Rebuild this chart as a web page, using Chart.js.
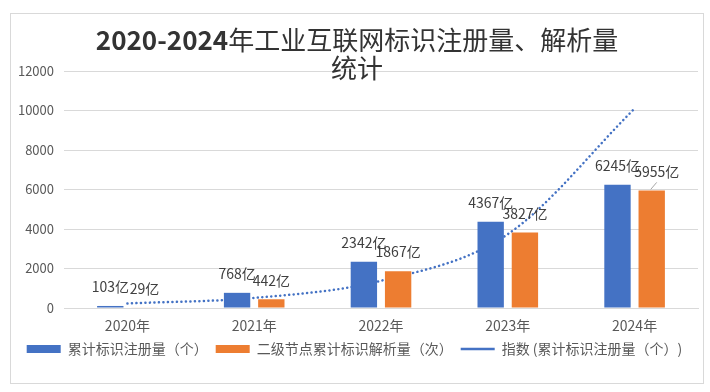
<!DOCTYPE html>
<html>
<head>
<meta charset="utf-8">
<script src="https://cdn.jsdelivr.net/npm/chart.js@4.4.1/dist/chart.umd.min.js"></script>
<style>
  html, body { margin: 0; padding: 0; background: #fff; }
  #box { position: absolute; left: 10px; top: 13px; width: 692px; height: 369px; border: 1px solid #d9d9d9; }
</style>
</head>
<body>
<div id="box"><canvas id="chart"></canvas></div>
<script>
    'use strict';

    // data
    var years = ['2020年', '2021年', '2022年', '2023年', '2024年'];
    var registered = [103, 768, 2342, 4367, 6245];   // 累计标识注册量（亿）
    var resolved = [29, 442, 1867, 3827, 5955];      // 二级节点累计标识解析量（亿）
    var trend = [230, 510, 1380, 3740, 10100];       // 指数趋势线
    var yTicks = [0, 2000, 4000, 6000, 8000, 10000, 12000];
    var titleBold = '2020-2024';
    var titleRest = '年工业互联网标识注册量、解析量';
    var titleLine2 = '统计';

    var CJK = '"Noto Sans CJK SC", "Noto Sans", sans-serif';

    /**
     * Value labels above the bars.
     */
    var barLabels = {
        id: 'barLabels',
        afterDatasetsDraw: function (chart) {
            var ctx = chart.ctx;
            ctx.save();
            ctx.font = '14px ' + CJK;
            ctx.fillStyle = '#404040';
            ctx.textAlign = 'center';
            ctx.textBaseline = 'middle';
            [0, 1].forEach(function (i) {
                var meta = chart.getDatasetMeta(i);
                var values = chart.data.datasets[i].data;
                meta.data.forEach(function (bar, k) {
                    var last = (i === 1 && k === values.length - 1);
                    var x = bar.x + (last ? 5 : 0);
                    ctx.fillText(values[k] + '亿', x, bar.y - 19);
                    if (last) {
                        // leader line of the moved label
                        ctx.strokeStyle = '#a6a6a6';
                        ctx.lineWidth = 1;
                        ctx.beginPath();
                        ctx.moveTo(bar.x - 1, bar.y - 1);
                        ctx.lineTo(bar.x + 5, bar.y - 8);
                        ctx.stroke();
                    }
                });
            });
            ctx.restore();
        }
    };

    /**
     * Two line title, bold numbers and regular text.
     */
    var mixedTitle = {
        id: 'mixedTitle',
        afterDraw: function (chart) {
            var ctx = chart.ctx;
            var cx = chart.width / 2;
            ctx.save();
            ctx.fillStyle = '#333333';
            ctx.textBaseline = 'middle';
            ctx.textAlign = 'left';

            ctx.font = 'bold 26px ' + CJK;
            var w1 = ctx.measureText(titleBold).width;
            ctx.font = '26px ' + CJK;
            var w2 = ctx.measureText(titleRest).width;
            var x0 = cx - (w1 + w2) / 2;
            ctx.font = 'bold 26px ' + CJK;
            ctx.fillText(titleBold, x0, 26);
            ctx.font = '26px ' + CJK;
            ctx.fillText(titleRest, x0 + w1, 26);

            ctx.textAlign = 'center';
            ctx.fillText(titleLine2, cx, 54);
            ctx.restore();
        }
    };

    new Chart(document.getElementById('chart'), {
        type: 'bar',
        data: {
            labels: years,
            datasets: [
                {
                    label: '累计标识注册量（个）',
                    data: registered,
                    backgroundColor: '#4472C4',
                    pointStyle: 'rect',
                    order: 1,
                    categoryPercentage: 0.54,
                    barPercentage: 0.77
                },
                {
                    label: '二级节点累计标识解析量（次）',
                    data: resolved,
                    backgroundColor: '#ED7D31',
                    pointStyle: 'rect',
                    order: 2,
                    categoryPercentage: 0.54,
                    barPercentage: 0.77
                },
                {
                    type: 'line',
                    label: '指数 (累计标识注册量（个）)',
                    data: trend,
                    borderColor: '#4472C4',
                    backgroundColor: '#4472C4',
                    borderWidth: 2.5,
                    borderDash: [0.1, 4.4],
                    borderCapStyle: 'round',
                    cubicInterpolationMode: 'monotone',
                    pointRadius: 0,
                    pointStyle: 'line',
                    fill: false,
                    order: 3
                }
            ]
        },
        options: {
            responsive: true,
            maintainAspectRatio: false,
            animation: false,
            layout: {
                padding: { top: 57, right: 5, bottom: 17, left: 0 }
            },
            plugins: {
                title: { display: false },
                tooltip: { enabled: false },
                legend: {
                    position: 'bottom',
                    labels: {
                        usePointStyle: true,
                        pointStyleWidth: 34,
                        boxHeight: 8,
                        padding: 8,
                        color: '#595959',
                        font: { family: CJK, size: 14 }
                    }
                }
            },
            scales: {
                x: {
                    grid: { display: false },
                    border: { color: '#d9d9d9' },
                    afterFit: function (scale) {
                        scale.height = 26;
                    },
                    ticks: {
                        color: '#595959',
                        padding: 1,
                        font: { family: CJK, size: 14 }
                    }
                },
                y: {
                    min: yTicks[0],
                    max: yTicks[yTicks.length - 1],
                    afterBuildTicks: function (scale) {
                        scale.ticks = yTicks.map(function (v) { return { value: v }; });
                    },
                    afterFit: function (scale) {
                        scale.width = 53;
                    },
                    grid: { color: '#d9d9d9', drawTicks: false },
                    border: { display: false },
                    ticks: {
                        color: '#595959',
                        padding: 10,
                        font: { family: CJK, size: 13 },
                        callback: function (value) {
                            return String(value);
                        }
                    }
                }
            }
        },
        plugins: [barLabels, mixedTitle]
    });
</script>
</body>
</html>
